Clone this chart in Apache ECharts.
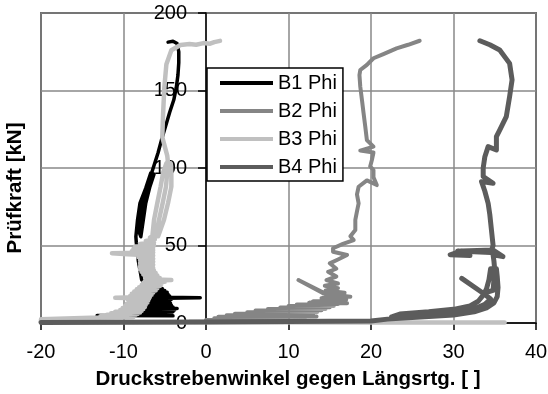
<!DOCTYPE html>
<html>
<head>
<meta charset="utf-8">
<title>Prüfkraft vs. Druckstrebenwinkel</title>
<script src="https://cdn.jsdelivr.net/npm/echarts@6/dist/echarts.min.js"></script>
<style>
  html, body { margin: 0; padding: 0; background: #fff; }
  #chart { width: 548px; height: 394px; }
</style>
</head>
<body>
<div id="chart"></div>
<script>
// Axis ranges and tick spacing
const xTicks = [-20, -10, 0, 10, 20, 30, 40];
const yTicks = [0, 50, 100, 150, 200];

const seriesNames = ['B1 Phi', 'B2 Phi', 'B3 Phi', 'B4 Phi'];

// Measured curves: [Druckstrebenwinkel, Prüfkraft]
const b1Phi = [
  [-13.2, 4.8], [-4, 4.6], [-7.9, 5.4], [-4.2, 6.0], [-8, 6.6], [-4, 7.2], [-7.9, 7.8], [-3.8, 8.4],
  [-7.8, 9.0], [-3.5, 9.3], [-7.6, 9.8], [-4, 10.4], [-7.5, 11.0], [-4.2, 11.6], [-7.4, 12.2],
  [-4.3, 12.8], [-7.3, 13.4], [-4.4, 14.0], [-7.2, 14.6], [-4.2, 15.2], [-7.1, 15.8], [-0.7, 16.3],
  [-7.1, 16.8], [-4.4, 17.4], [-7, 18.0], [-4.6, 18.6], [-6.9, 19.2], [-4.7, 19.8], [-6.8, 20.4],
  [-5, 21.0], [-6.7, 21.6], [-5.3, 22.2], [-6.5, 22.8], [-5.8, 23.4], [-7.3, 24.5],
  [-7.8, 28], [-8, 34], [-8.2, 40], [-8.3, 46], [-8.45, 52],
  [-8.5, 55.7], [-8.3, 66.5], [-8.0, 77.4], [-7.3, 87], [-6.7, 96.8],
  [-6.3, 96], [-6.8, 88], [-7.3, 77.4], [-7.6, 66.5], [-7.9, 55.7],
  [-8.2, 60], [-7.9, 70], [-7.5, 80], [-7.0, 90], [-6.4, 100], [-5.8, 110], [-5.4, 118],
  [-4.9, 127], [-4.4, 136], [-3.9, 144], [-3.6, 152], [-3.4, 160], [-3.3, 168], [-3.3, 175],
  [-3.5, 180.3], [-4.0, 181.8], [-4.6, 181.2]
];

const b2Phi = [
  [-2, 0.8], [5, 1.2], [0, 2], [9, 2.2], [1, 3], [12, 3.2], [1.5, 4], [13.4, 4.2], [2.5, 5],
  [13, 5.2], [3.5, 6], [13, 6.2], [5, 7], [13.5, 7.2], [6, 8], [14, 8.2], [7.5, 9], [14.5, 9.2],
  [9, 10], [15, 10.2], [10, 11], [15.5, 11.2], [11, 12], [16, 12.2], [12.5, 13], [17.1, 12.7],
  [13, 14], [16.5, 14.2], [14, 15], [17, 15.2], [14, 16], [15, 17], [11.2, 27.7], [15, 17.5],
  [17.5, 17], [14.2, 19], [16.8, 19.5], [14.5, 21], [16, 22.5], [14.4, 24], [16, 25.5],
  [14.6, 27.7], [15.8, 30], [14.8, 33], [15.8, 35], [15, 38.5], [16, 41], [17.1, 43.9],
  [15.4, 46], [15.4, 48.2], [16.6, 51], [17.9, 53.5], [17.5, 56], [18.1, 60], [18.1, 66.5],
  [18.3, 72], [18.5, 77.2], [18.3, 83], [18.5, 87.9], [19.5, 92], [20.7, 89], [20.3, 94],
  [20.3, 98.7], [19.9, 101], [20.1, 105], [20.3, 110], [18.7, 111.2], [20.3, 113.8], [19.5, 118],
  [19.3, 127], [19.1, 135.3], [18.9, 144], [18.7, 152.5], [18.6, 160], [18.7, 163.2],
  [19.5, 166.5], [20.3, 170.8], [21.5, 173.5], [23.1, 177.2], [24.5, 179.5], [25.9, 182.1]
];

const b3Phi = [
  [36.2, 0.3], [20, 0.4], [0, 0.5], [-20, 0.8], [-20, 2.4], [-16, 3.0], [-13, 3.6], [-8.8, 3.9],
  [-12.8, 4.3], [-8.6, 4.8], [-12, 5.3], [-8.3, 5.8], [-11.5, 6.3], [-8, 6.8], [-11, 7.3],
  [-7.8, 7.8], [-10.4, 8.4], [-7.6, 9.0], [-10.1, 9.7], [-7.4, 10.4], [-9.8, 11.1], [-7.3, 11.8],
  [-9.6, 12.5], [-7.1, 13.2], [-9.3, 13.9], [-7, 14.6], [-9.5, 15.3], [-6.9, 15.8], [-11, 16.3],
  [-6.8, 16.8], [-9.2, 17.5], [-6.6, 18.2], [-9, 18.9], [-6.4, 19.6], [-8.7, 20.3], [-6.1, 21.0],
  [-8.4, 21.7], [-5.9, 22.4], [-8.1, 23.1], [-5.6, 23.8], [-7.8, 24.5], [-5.4, 25.2],
  [-7.6, 25.9], [-5, 26.6], [-7.4, 27.1], [-4.2, 27.7], [-7.2, 28.3], [-5.6, 29], [-7.4, 29.8],
  [-5.9, 30.6], [-7.6, 31.4], [-6.1, 32.2], [-7.8, 33], [-6.3, 33.8], [-8, 34.6], [-6.4, 35.5],
  [-8, 36.5], [-6.4, 37.5], [-8, 38.5], [-6.4, 39.5], [-8, 40.5], [-6.4, 41.5], [-8.2, 42.5],
  [-6.4, 43.5], [-9.5, 44.3], [-11.4, 45], [-6.4, 45.5], [-9, 46.3], [-6.4, 47], [-8.8, 47.8],
  [-6.4, 48.6], [-8.6, 49.4], [-6.3, 50.2], [-8, 51], [-6.3, 52], [-7.3, 53], [-6.2, 54],
  [-6.8, 55],
  [-6.5, 56], [-6.3, 66.5], [-5.9, 77.4], [-5.5, 88], [-5.2, 97], [-4.8, 103],
  [-4.3, 103], [-4.2, 97], [-4.2, 88], [-4.6, 77.4], [-5.1, 66.5], [-5.8, 56],
  [-6.1, 56], [-5.7, 66.5], [-5.25, 77.4], [-4.85, 88], [-4.7, 97], [-4.6, 103],
  [-4.7, 108], [-5.0, 114], [-5.3, 120], [-5.2, 135], [-5.05, 152], [-4.8, 167], [-4.2, 176],
  [-3.1, 179.4], [-2, 180], [-1.2, 179.5], [-0.3, 180.6], [0.5, 180.2], [1.0, 181.2], [1.7, 182]
];

const b4Phi = [
  [-20, 0.3], [0, 0.6], [10, 1.0], [20, 1.3], [22, 2.5], [26, 3.8], [30, 5.2], [32.5, 7.2],
  [34, 9.8], [34.9, 13], [35.3, 17], [35.4, 23], [35.3, 30], [35.2, 35],
  [34.5, 35], [34.3, 28], [34, 22], [33.6, 18], [33, 14], [32, 11], [30, 8.8], [27, 7.2],
  [23.5, 5.8], [22.5, 4], [27, 5.5], [30.5, 7], [32.5, 9], [33.8, 12], [34.5, 15.5],
  [33.6, 19.2], [31, 28.8], [33.6, 19.2], [34.8, 21], [34.9, 28], [35, 34.2], [34.9, 40],
  [34.8, 44], [36, 42.8], [34.8, 47.1], [31, 46.5], [29.6, 44], [32, 43.5], [30.5, 46.5],
  [34.5, 45.5], [34.8, 50], [34.6, 60], [34.4, 70], [34.2, 77.2], [33.8, 85], [33.4, 91.2],
  [34.8, 90.1], [33.6, 94.5], [33.6, 100], [33.8, 107.3], [34.2, 113.8], [35.2, 111.6],
  [35.2, 120.2], [35.6, 124.5], [36.4, 133.1], [36.8, 146], [37.1, 156.8], [36.8, 167.5],
  [35.6, 176.1], [34.4, 179.5], [33.2, 182.1]
];

const seriesData = [b1Phi, b2Phi, b3Phi, b4Phi];
const seriesColors = ['#000000', '#858585', '#c0c0c0', '#5c5c5c'];
const seriesWidths = [3.5, 4, 4.5, 5];

const FONT = '"Liberation Sans", Arial, Helvetica, sans-serif';

// Plot frame in pixels
const GRID_LEFT = 41, GRID_RIGHT = 12, GRID_TOP = 13, GRID_BOTTOM = 71;
const plotWidth = 548 - GRID_LEFT - GRID_RIGHT;
// shift the force axis so it sits on angle = 0
const yAxisShift = plotWidth * (0 - xTicks[0]) / (xTicks[xTicks.length - 1] - xTicks[0]);

const chart = echarts.init(document.getElementById('chart'), null, { renderer: 'canvas' });

const option = {
  animation: false,
  backgroundColor: '#fff',
  grid: {
    left: GRID_LEFT, right: GRID_RIGHT, top: GRID_TOP, bottom: GRID_BOTTOM,
    containLabel: false,
    outerBoundsMode: 'none',
    show: true,
    borderColor: '#000',
    borderWidth: 1.5,
    backgroundColor: 'transparent'
  },
  xAxis: {
    type: 'value',
    min: xTicks[0],
    max: xTicks[xTicks.length - 1],
    interval: xTicks[1] - xTicks[0],
    axisLine: { onZero: false, lineStyle: { color: '#000', width: 1.5 } },
    axisTick: { show: true, inside: false, length: 7, lineStyle: { color: '#000', width: 1.5 } },
    axisLabel: { color: '#000', fontSize: 20, fontFamily: FONT, margin: 19 },
    splitLine: { show: true, lineStyle: { color: '#888', width: 1.5 } }
  },
  yAxis: {
    type: 'value',
    position: 'left',
    offset: -yAxisShift,
    min: yTicks[0],
    max: yTicks[yTicks.length - 1],
    interval: yTicks[1] - yTicks[0],
    axisLine: { show: true, onZero: false, lineStyle: { color: '#000', width: 1.5 } },
    axisTick: { show: true, inside: false, length: 8, lineStyle: { color: '#000', width: 1.5 } },
    axisLabel: { color: '#000', fontSize: 20, fontFamily: FONT, margin: 19 },
    splitLine: { show: true, lineStyle: { color: '#888', width: 1.5 } }
  },
  legend: {
    orient: 'vertical',
    left: 207,
    top: 68,
    padding: [5, 6, 4, 13],
    itemWidth: 53,
    itemHeight: 4,
    itemGap: 8,
    icon: 'rect',
    backgroundColor: '#fff',
    borderColor: '#000',
    borderWidth: 1.5,
    borderRadius: 0,
    textStyle: { color: '#000', fontSize: 20, fontFamily: FONT, lineHeight: 20 },
    data: seriesNames
  },
  series: seriesNames.map((name, i) => ({
    name: name,
    type: 'line',
    data: seriesData[i],
    showSymbol: false,
    symbol: 'none',
    smooth: false,
    clip: true,
    color: seriesColors[i],
    lineStyle: { color: seriesColors[i], width: seriesWidths[i], join: 'round', cap: 'round' }
  })),
  graphic: [
    {
      type: 'text',
      x: 288, y: 379,
      style: {
        text: 'Druckstrebenwinkel gegen Längsrtg. [ ]',
        font: 'bold 20.5px ' + FONT,
        fill: '#000',
        align: 'center',
        verticalAlign: 'middle'
      }
    },
    {
      type: 'text',
      x: 15, y: 188,
      rotation: Math.PI / 2,
      style: {
        text: 'Prüfkraft [kN]',
        font: 'bold 20.5px ' + FONT,
        fill: '#000',
        align: 'center',
        verticalAlign: 'middle'
      }
    }
  ]
};

chart.setOption(option);
</script>
</body>
</html>
